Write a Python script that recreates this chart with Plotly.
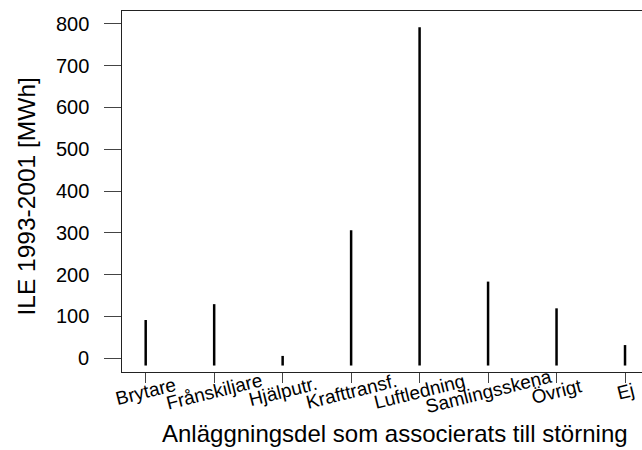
import plotly.graph_objects as go

categories = ["Brytare", "Frånskiljare", "Hjälputr.", "Krafttransf.", "Luftledning",
              "Samlingsskena", "Övrigt", "Ej"]
ile_mwh = [91, 129, 5, 306, 792, 183, 119, 31]
baseline = -18
y_ticks = [0, 100, 200, 300, 400, 500, 600, 700, 800]

positions = list(range(1, len(categories) + 1))

xs, ys = [], []
for p, v in zip(positions, ile_mwh):
    xs += [p, p, None]
    ys += [baseline, v, None]

fig = go.Figure()
fig.add_trace(go.Scatter(x=xs, y=ys, mode="lines",
                         line=dict(color="black", width=2.5),
                         hoverinfo="skip", showlegend=False))

W, H = 642, 450
L, T, B, R = 122, 11, 78, 0
ph = H - T - B
pw = W - L - R
FONT = "Liberation Sans, Arial, sans-serif"

for p, lab in zip(positions, categories):
    fig.add_annotation(x=p, xref="x", y=(372 - 391) / ph, yref="paper",
                       text=lab, showarrow=False, textangle=-14,
                       xanchor="center", yanchor="middle",
                       font=dict(family=FONT, size=19, color="black"))

for v in y_ticks:
    fig.add_annotation(x=(91 - L) / pw, xref="paper", y=v, yref="y",
                       text=str(v), showarrow=False,
                       xanchor="right", yanchor="middle",
                       font=dict(family=FONT, size=20, color="black"))

fig.add_annotation(x=(395 - L) / pw, xref="paper",
                   y=(372 - 434) / ph, yref="paper",
                   text="Anläggningsdel som associerats till störning", showarrow=False,
                   xanchor="center", yanchor="middle",
                   font=dict(family=FONT, size=24, color="black"))
fig.add_annotation(x=(26 - L) / pw, xref="paper",
                   y=(372 - 196.5) / ph, yref="paper",
                   text="ILE 1993-2001 [MWh]", showarrow=False, textangle=-90,
                   xanchor="center", yanchor="middle",
                   font=dict(family=FONT, size=24.5, color="black"))

fig.update_layout(
    width=W, height=H,
    margin=dict(l=L, r=R, t=T, b=B, pad=0),
    paper_bgcolor="white", plot_bgcolor="white",
    font=dict(family=FONT, color="black"),
    xaxis=dict(range=[0.654, 8.248], tickvals=positions, showticklabels=False,
               ticks="outside", ticklen=10, tickcolor="#444", tickwidth=1,
               showline=True, linecolor="#222", linewidth=1, mirror=True,
               showgrid=False, zeroline=False),
    yaxis=dict(range=[-33.5, 831.1], tickvals=y_ticks, showticklabels=False,
               ticks="outside", ticklen=17, tickcolor="#444", tickwidth=1,
               showline=True, linecolor="#222", linewidth=1, mirror=False,
               showgrid=False, zeroline=False),
)

fig.write_html("out.html")
